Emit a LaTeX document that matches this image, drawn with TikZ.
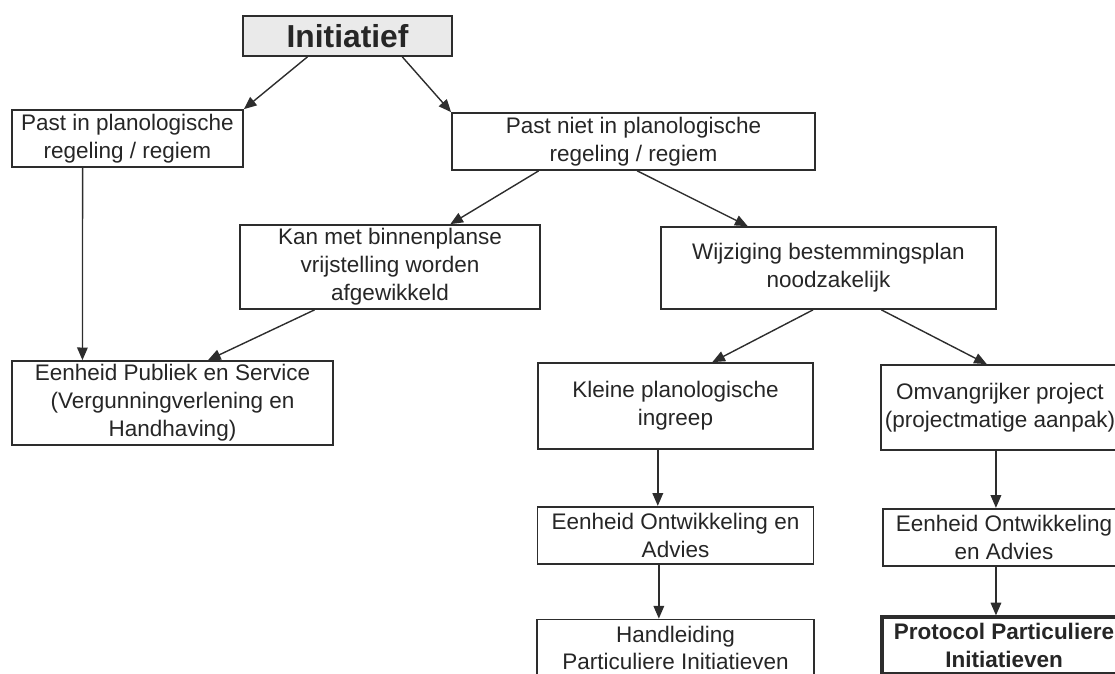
\documentclass[tikz,border=0pt]{standalone}
\usepackage{fontspec}
\setmainfont{Liberation Sans}
\usepackage{tikz}
\usetikzlibrary{arrows.meta, positioning, calc}
\definecolor{boxborder}{RGB}{45, 45, 45}
\definecolor{initfill}{RGB}{234, 234, 234}

\begin{document}
\begin{tikzpicture}[
  x=0.025cm, y=-0.025cm,
  node distance=1.4cm and 1.2cm,
  every node/.style={font=\fontsize{16}{19.8}\selectfont},
  box/.style={rectangle, draw=boxborder, line width=1.2pt, align=center, inner sep=0pt, fill=white, text=black!85},
  arrow/.style={-{Triangle[length=9pt, width=7.5pt]}, line width=1pt, color=boxborder},
]
  \useasboundingbox (0,0) rectangle (1115,673);
  \clip (0,0) rectangle (1115,673);

  % top
  \node[box, fill=initfill, minimum width=5.225cm, minimum height=1cm, font=\fontsize{22.6}{26}\selectfont\bfseries] (init) at (347.5,36) {Initiatief};
  \node[box, minimum width=5.775cm, minimum height=1.425cm] (pastin) at (127.5,138.5) {Past in planologische\\regeling / regiem};
  \node[box, minimum width=9.075cm, minimum height=1.425cm] (pastniet) at (633.5,141.5) {Past niet in planologische\\regeling / regiem};

  \draw[arrow] ($(init.south west)!0.31!(init.south east)$) -- (pastin.north east);
  \draw[arrow] ($(init.south west)!0.76!(init.south east)$) -- (pastniet.north west);

  % middle
  \node[box, minimum width=7.5cm, minimum height=2.1cm] (kan) at (390,267) {Kan met binnenplanse\\vrijstelling worden\\afgewikkeld};
  \node[box, minimum width=8.375cm, minimum height=2.05cm] (wijz) at (828.5,268) {Wijziging bestemmingsplan\\noodzakelijk};
  \node[box, minimum width=8.025cm, minimum height=2.1cm] (eps) at (172.5,403) {Eenheid Publiek en Service\\(Vergunningverlening en\\Handhaving)};

  \draw[arrow] ($(pastniet.south west)!0.24!(pastniet.south east)$) -- ($(kan.north west)!0.70!(kan.north east)$);
  \draw[arrow] ($(pastniet.south west)!0.51!(pastniet.south east)$) -- ($(wijz.north west)!0.26!(wijz.north east)$);
  \draw[arrow] ($(pastin.south west)!0.307!(pastin.south east)$) -- ($(eps.north west)!0.221!(eps.north east)$);
  \draw[arrow] ($(kan.south west)!0.25!(kan.south east)$) -- ($(eps.north west)!0.61!(eps.north east)$);

  % lower branches
  \node[box, minimum width=6.875cm, minimum height=2.15cm] (kleine) at (675.5,406) {Kleine planologische\\ingreep};
  \node[box, minimum width=5.95cm, minimum height=2.125cm] (omv) at (1000,407.5) {Omvangrijker project\\(projectmatige aanpak)};
  \node[box, minimum width=6.9cm, minimum height=1.425cm, below=of kleine] (eoaklein) {Eenheid Ontwikkeling en\\Advies};
  \node[box, minimum width=6.05cm, minimum height=1.425cm, below=1.425cm of omv, xshift=0.1cm] (eoaomv) {Eenheid Ontwikkeling\\en Advies};
  \node[box, minimum width=6.925cm, minimum height=1.425cm, below=1.35cm of eoaklein] (handl) {Handleiding\\Particuliere Initiatieven};
  \node[box, line width=2.4pt, minimum width=6.1cm, minimum height=1.425cm, below=1.22cm of eoaomv, font=\fontsize{16}{19.8}\selectfont\bfseries] (protocol) {Protocol Particuliere\\Initiatieven};

  \draw[arrow] ($(wijz.south west)!0.454!(wijz.south east)$) -- ($(kleine.north west)!0.633!(kleine.north east)$);
  \draw[arrow] ($(wijz.south west)!0.657!(wijz.south east)$) -- ($(omv.north west)!0.445!(omv.north east)$);

  \coordinate (kleinedown) at ($(kleine.south west)!0.436!(kleine.south east)$);
  \coordinate (eoadown) at ($(eoaklein.south west)!0.44!(eoaklein.south east)$);
  \coordinate (omvdown) at ($(omv.south west)!0.483!(omv.south east)$);
  \coordinate (eoaomvdown) at ($(eoaomv.south west)!0.467!(eoaomv.south east)$);
  \draw[arrow] (kleinedown) -- (kleinedown |- eoaklein.north);
  \draw[arrow] (eoadown) -- (eoadown |- handl.north);
  \draw[arrow] (omvdown) -- (omvdown |- eoaomv.north);
  \draw[arrow] (eoaomvdown) -- (eoaomvdown |- protocol.north);
\end{tikzpicture}
\end{document}
